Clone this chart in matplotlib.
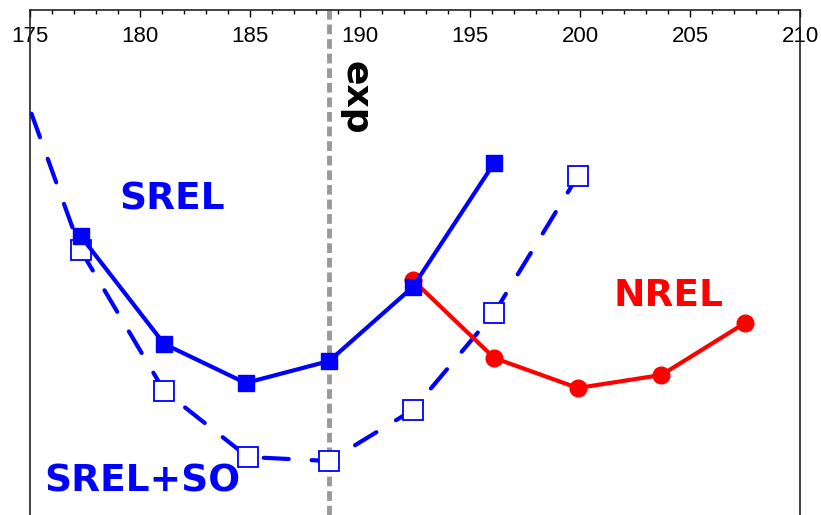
import matplotlib
matplotlib.use('Agg')
import matplotlib.pyplot as plt

# x positions and (arbitrary unit) energies
srel_x = [177.3, 181.1, 184.8, 188.6, 192.4, 196.1]
srel_y = [26.4, 15.6, 11.7, 13.9, 21.3, 33.7]

srel_so_x = [173.5, 177.3, 181.1, 184.9, 188.6, 192.4, 196.1, 199.9]
srel_so_y = [48.2, 25.0, 10.9, 4.3, 3.9, 9.0, 18.7, 32.4]

nrel_x = [192.4, 196.1, 199.9, 203.7, 207.5]
nrel_y = [22.0, 14.2, 11.2, 12.5, 17.7]

exp_x = 188.6
x_ticks = [175, 180, 185, 190, 195, 200, 205, 210]

plt.rcParams['font.family'] = ['Liberation Sans', 'DejaVu Sans']

fig = plt.figure(figsize=(8.21, 5.15), dpi=100)
ax = fig.add_axes([30 / 821, 0.0, 770 / 821, 1 - 10 / 515])

# experimental value
ax.axvline(exp_x, color='#999999', lw=3.5, dashes=(2, 1), zorder=1)

ax.plot(srel_so_x, srel_so_y, color='#0000ff', lw=3, dashes=(6, 5.5),
        dash_capstyle='round', marker='s', markersize=14,
        markerfacecolor='white', markeredgecolor='#0000ff', markeredgewidth=1.3,
        zorder=3)
ax.plot(nrel_x, nrel_y, color='#ff0000', lw=3, marker='o', markersize=12,
        zorder=3)
ax.plot(srel_x, srel_y, color='#0000ff', lw=3, marker='s', markersize=11,
        zorder=4)

lab = dict(fontsize=27, fontweight='bold', family='DejaVu Sans',
           ha='center', va='center')
ax.text(181.45, 30.0, 'SREL', color='#0000ff', **lab)
ax.text(180.1, 1.9, 'SREL+SO', color='#0000ff', **lab)
ax.text(204.0, 20.4, 'NREL', color='#ff0000', **lab)
ax.text(189.8, 40.2, 'exp', color='black', rotation=270, **dict(lab, fontsize=26))

ax.set_xlim(175, 210)
ax.set_ylim(-1.5, 49)
ax.set_xticks(x_ticks)
ax.set_xticks(range(175, 211), minor=True)
ax.xaxis.tick_top()
ax.tick_params(axis='x', which='major', direction='in', length=5, width=1,
               labelsize=16, pad=-27)
ax.tick_params(axis='x', which='minor', direction='in', length=3, width=1)
ax.set_yticks([])
ax.spines['bottom'].set_visible(False)
for s in ['top', 'left', 'right']:
    ax.spines[s].set_linewidth(1.2)
    ax.spines[s].set_color('#222222')

fig.savefig('out.png', dpi=100)
